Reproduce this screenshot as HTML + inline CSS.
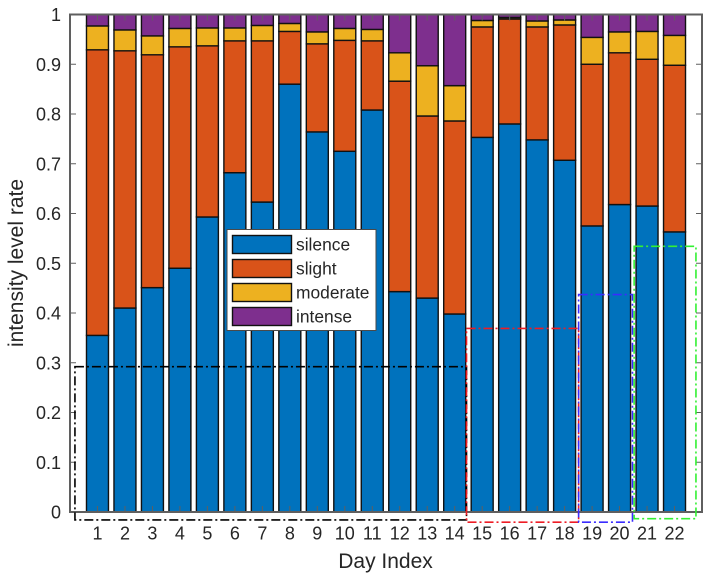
<!DOCTYPE html>
<html lang="en">
<head>
<meta charset="utf-8">
<title>Intensity level rate by day</title>
<style>
html,body{margin:0;padding:0;background:#fff;width:710px;height:579px;overflow:hidden}
svg{display:block}
text{font-family:"Liberation Sans",Arial,sans-serif;fill:#262626}
</style>
</head>
<body>
<svg id="chart" width="710" height="579" viewBox="0 0 710 579" xmlns="http://www.w3.org/2000/svg"></svg>
<script>
const days = [1,2,3,4,5,6,7,8,9,10,11,12,13,14,15,16,17,18,19,20,21,22];
const silence = [.355,.41,.451,.49,.593,.682,.623,.86,.764,.725,.808,.443,.43,.398,.753,.78,.748,.707,.575,.618,.615,.563];
const slight = [.574,.517,.468,.445,.344,.265,.324,.106,.177,.223,.139,.423,.366,.388,.222,.211,.227,.272,.325,.305,.295,.335];
const moderate = [.048,.042,.038,.037,.036,.026,.031,.016,.024,.024,.023,.057,.101,.071,.013,.003,.012,.01,.054,.042,.056,.06];
const intense = [.023,.031,.043,.028,.027,.027,.022,.018,.035,.028,.03,.077,.103,.143,.012,.006,.013,.011,.046,.035,.034,.042];
const seriesNames = ['silence','slight','moderate','intense'];
const yTicks = [0,.1,.2,.3,.4,.5,.6,.7,.8,.9,1];
const yTickLabels = ['0','0.1','0.2','0.3','0.4','0.5','0.6','0.7','0.8','0.9','1'];
const boxNames = ['black','red','blue','green'];
const boxX0 = [0.18,14.43,18.51,20.53];
const boxX1 = [14.43,18.51,20.47,22.78];
const boxTop = [.292,.369,.437,.534];
const boxBottom = [-.016,-.0205,-.0205,-.0135];

const NS = 'http://www.w3.org/2000/svg';
const svg = document.getElementById('chart');
const L = 70, R = 702, T = 14.5, B = 512;
const colors = ['#0072bd','#d95319','#edb120','#7e2f8e'];
const boxColors = ['#000000','#ee1c25','#3a2cff','#33f033'];
const xScale = d => L + (d / 23) * (R - L);
const yScale = v => B - v * (B - T);
const barWidth = 0.8;

function el(tag, attrs, parent) {
  const e = document.createElementNS(NS, tag);
  for (const k in attrs) e.setAttribute(k, attrs[k]);
  (parent || svg).appendChild(e);
  return e;
}

const barsGroup = el('g', {});


const allSeries = [silence, slight, moderate, intense];
days.forEach((d, i) => {
  let base = 0;
  allSeries.forEach((vals, s) => {
    let top = base + vals[i];
    if (top > 1) top = 1;
    const r = el('rect', {
      x: xScale(d - barWidth / 2), y: yScale(top),
      width: xScale(d + barWidth / 2) - xScale(d - barWidth / 2),
      height: yScale(base) - yScale(top),
      fill: colors[s], stroke: '#111', 'stroke-width': 1.4
    }, barsGroup);
    
    
    base = top;
  });
});

const axisColor = '#5f5f5f';
const frame = el('rect', {x: L, y: T, width: R - L, height: B - T, fill: 'none', stroke: axisColor, 'stroke-width': 2});



yTicks.forEach((v, i) => {
  const y = yScale(v);
  const t1 = el('line', {x1: L, x2: L + 6, y1: y, y2: y, stroke: axisColor, 'stroke-width': 1});
  
  
  const t2 = el('line', {x1: R - 6, x2: R, y1: y, y2: y, stroke: axisColor, 'stroke-width': 1});
  
  
  const lab = el('text', {x: 61, y: y + 6.5, 'text-anchor': 'end', 'font-size': 18});
  lab.textContent = yTickLabels[i];
  
  
});

days.forEach(d => {
  const x = xScale(d);
  const t1 = el('line', {x1: x, x2: x, y1: B, y2: B - 6, stroke: axisColor, 'stroke-width': 1});
  
  
  const t2 = el('line', {x1: x, x2: x, y1: T, y2: T + 6, stroke: axisColor, 'stroke-width': 1});
  
  
  const lab = el('text', {x: x, y: 539.5, 'text-anchor': 'middle', 'font-size': 18});
  lab.textContent = String(d);
  
  
});

boxNames.forEach((n, i) => {
  const b = el('rect', {
    x: xScale(boxX0[i]), y: yScale(boxTop[i]),
    width: xScale(boxX1[i]) - xScale(boxX0[i]),
    height: yScale(boxBottom[i]) - yScale(boxTop[i]),
    fill: 'none', stroke: boxColors[i], 'stroke-width': 1.6,
    'stroke-dasharray': '9 3 2 3'
  });
  
  
});
</script>
<script>
(function () {
  const s = document.getElementById('chart');
  const NSL = 'http://www.w3.org/2000/svg';
  const g = document.createElementNS(NSL, 'g');
  
  
  s.appendChild(g);
  const bg = document.createElementNS(NSL, 'rect');
  bg.setAttribute('x', 227); bg.setAttribute('y', 229.5);
  bg.setAttribute('width', 149); bg.setAttribute('height', 101);
  bg.setAttribute('fill', '#fff'); bg.setAttribute('stroke', '#4a4a4a'); bg.setAttribute('stroke-width', 1);
  
  
  g.appendChild(bg);
  seriesNames.forEach((n, i) => {
    const y = 235.5 + i * 24;
    const sw = document.createElementNS(NSL, 'rect');
    sw.setAttribute('x', 232.5); sw.setAttribute('y', y);
    sw.setAttribute('width', 59); sw.setAttribute('height', 18);
    sw.setAttribute('fill', colors[i]); sw.setAttribute('stroke', '#111'); sw.setAttribute('stroke-width', 1.4);
    
    
    g.appendChild(sw);
    const t = document.createElementNS(NSL, 'text');
    t.setAttribute('x', 296); t.setAttribute('y', y + 15);
    t.setAttribute('font-size', 17.4);
    t.textContent = n;
    
    
    g.appendChild(t);
  });
  const xt = document.createElementNS(NSL, 'text');
  xt.setAttribute('x', 385.5); xt.setAttribute('y', 568);
  xt.setAttribute('text-anchor', 'middle'); xt.setAttribute('font-size', 21);
  xt.textContent = 'Day Index';
  
  
  s.appendChild(xt);
  const yt = document.createElementNS(NSL, 'text');
  yt.setAttribute('transform', 'translate(23 263) rotate(-90)');
  yt.setAttribute('text-anchor', 'middle'); yt.setAttribute('font-size', 21);
  yt.textContent = 'intensity level rate';
  
  
  s.appendChild(yt);
})();
</script>
</body>
</html>
